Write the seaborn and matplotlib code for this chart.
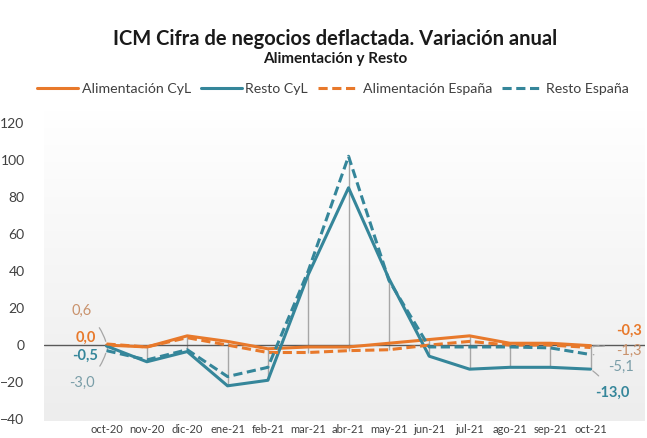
import numpy as np
import pandas as pd
import matplotlib
matplotlib.use("Agg")
import matplotlib.pyplot as plt
import seaborn as sns

# ── Data ──────────────────────────────────────────────────────────────────────
MONTHS = ["oct-20", "nov-20", "dic-20", "ene-21", "feb-21", "mar-21", "abr-21",
          "may-21", "jun-21", "jul-21", "ago-21", "sep-21", "oct-21"]
alim_cyl = [0.0, -1.0, 5.0, 2.0, -2.0, -1.0, -1.0, 1.0, 3.0, 5.0, 1.0, 1.0, -0.3]
resto_cyl = [-0.5, -9.0, -3.5, -22.0, -19.0, 38.0, 85.0, 36.0, -6.0, -13.0, -12.0, -12.0, -13.0]
alim_esp = [0.6, -1.0, 4.0, 0.0, -4.0, -4.0, -3.0, -2.5, 0.0, 2.0, 0.0, 0.0, -1.3]
resto_esp = [-3.0, -8.0, -2.5, -17.0, -12.0, 40.0, 102.0, 35.0, -1.0, -1.0, -1.0, -1.5, -5.1]

SERIES = ["Alimentación CyL", "Resto CyL", "Alimentación España", "Resto España"]
ORANGE = "#E8792B"
TEAL = "#35869A"

x = np.arange(len(MONTHS))
df = pd.DataFrame({
    "x": np.tile(x, 4),
    "valor": alim_cyl + resto_cyl + alim_esp + resto_esp,
    "serie": np.repeat(SERIES, len(MONTHS)),
})

sns.set_style("white")
plt.rcParams["font.family"] = ["Lato", "DejaVu Sans"]

fig = plt.figure(figsize=(6.47, 4.38), dpi=100)
ax = fig.add_axes([44 / 647, 1 - 421 / 438, 601 / 647, 311 / 438])

# gradient background (white on top, light grey at the bottom)
grad = np.linspace(0, 1, 256).reshape(-1, 1)
ax.imshow(grad, extent=[0, 1, 0, 1], transform=ax.transAxes, aspect="auto",
          cmap=matplotlib.colors.LinearSegmentedColormap.from_list("g", ["#ffffff", "#ededed"]),
          vmin=0, vmax=1, zorder=0)

# high-low lines
vals = np.array([alim_cyl, resto_cyl, alim_esp, resto_esp])
ax.vlines(x, vals.min(axis=0), vals.max(axis=0), color="#a6a6a6", lw=1.0, zorder=1)
ax.axhline(0, color="#595959", lw=1.0, zorder=1)

palette = {SERIES[0]: ORANGE, SERIES[1]: TEAL, SERIES[2]: ORANGE, SERIES[3]: TEAL}
dashes = {SERIES[0]: "", SERIES[1]: "", SERIES[2]: (3, 1.5), SERIES[3]: (3, 1.5)}
sns.lineplot(data=df, x="x", y="valor", hue="serie", style="serie", palette=palette,
             dashes=dashes, lw=2.2, ax=ax, legend=True, zorder=3)

ax.set_xlim(-1.55, 13.35)
ax.set_ylim(-41, 127)
ax.set_yticks(range(-40, 121, 20))
ax.set_xticks(x)
ax.set_xticklabels(MONTHS, fontsize=8, color="#404040")
ax.tick_params(axis="x", pad=2, length=0)
ax.tick_params(axis="y", labelsize=10, colors="#404040", length=0, pad=14)
ax.set_xlabel("")
ax.set_ylabel("")
for s in ax.spines.values():
    s.set_visible(False)

# legend
handles, labels = ax.get_legend_handles_labels()
ax.legend_.remove()
fig.legend(handles, labels, loc="center", bbox_to_anchor=(0.515, 1 - 89 / 438), ncol=4,
           frameon=False, fontsize=10.2, handlelength=2.9, handletextpad=0.25,
           columnspacing=0.7, labelcolor="#404040")

# titles
fig.text(0.518, 1 - 39 / 438, "ICM Cifra de negocios deflactada. Variación anual",
         ha="center", va="center", fontsize=14.5, fontweight="bold", color="#1a1a1a")
fig.text(0.518, 1 - 59 / 438, "Alimentación y Resto", ha="center", va="center",
         fontsize=11, fontweight="bold", color="#1a1a1a")

# data labels
LIGHT_OR = "#C9926C"
LIGHT_TE = "#7A9EA8"
line_kw = dict(arrowstyle="-", color="#a6a6a6", lw=0.9)
ax.annotate("0,6", xy=(0, alim_esp[0]), xytext=(-0.62, 18.5), ha="center", va="center",
            fontsize=10.5, color=LIGHT_OR,
            arrowprops=dict(line_kw, connectionstyle="arc3,rad=-0.2", shrinkA=6))
ax.text(-0.25, 3.8, "0,0", ha="right", va="center", fontsize=10.5, fontweight="bold", color=ORANGE)
ax.text(-0.2, -6, "-0,5", ha="right", va="center", fontsize=10.5, fontweight="bold", color=TEAL)
ax.annotate("-3,0", xy=(0, resto_esp[0]), xytext=(-0.6, -20.5), ha="center", va="center",
            fontsize=10.5, color=LIGHT_TE,
            arrowprops=dict(line_kw, connectionstyle="arc3,rad=0.2", shrinkA=6))
ax.annotate("-0,3", xy=(12, alim_cyl[12]), xytext=(12.95, 7.6), ha="center", va="center",
            fontsize=10.5, fontweight="bold", color=ORANGE,
            arrowprops=dict(line_kw, connectionstyle="arc3,rad=-0.3", shrinkA=10))
ax.annotate("-1,3", xy=(12, alim_esp[12]), xytext=(12.95, -3.2), ha="center", va="center",
            fontsize=10.5, color=LIGHT_OR,
            arrowprops=dict(line_kw, connectionstyle="arc3,rad=0.2", shrinkA=10))
ax.annotate("-5,1", xy=(12, resto_esp[12]), xytext=(12.75, -12), ha="center", va="center",
            fontsize=10.5, color=LIGHT_TE,
            arrowprops=dict(line_kw, connectionstyle="arc3,rad=0.2", shrinkA=8))
ax.annotate("-13,0", xy=(12, resto_cyl[12]), xytext=(12.55, -26), ha="center", va="center",
            fontsize=10.5, fontweight="bold", color=TEAL,
            arrowprops=dict(line_kw, connectionstyle="arc3,rad=0.1", shrinkA=7))

fig.savefig("out.png", dpi=100)
